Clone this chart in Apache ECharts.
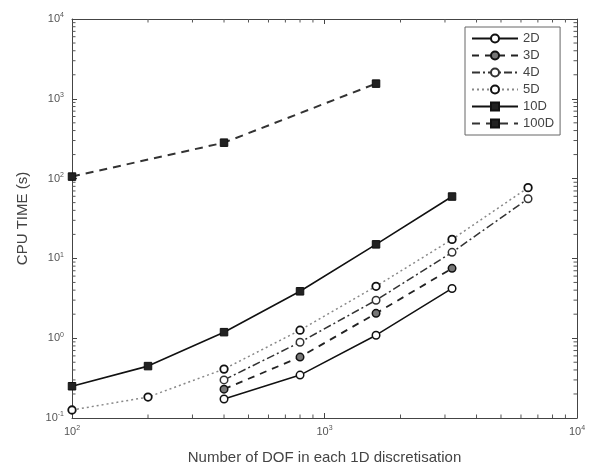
<!DOCTYPE html>
<html>
<head>
<meta charset="utf-8">
<script src="https://cdn.jsdelivr.net/npm/echarts@6/dist/echarts.min.js"></script>
<style>html,body{margin:0;padding:0;background:#fff}#c{width:590px;height:472px}</style>
</head>
<body>
<div id="c"></div>
<script>
const dof = [100, 200, 400, 800, 1600, 3200, 6400];
const t2D = [null, null, 0.173, 0.345, 1.09, 4.2, null];
const t3D = [null, null, 0.23, 0.58, 2.05, 7.5, null];
const t4D = [null, null, 0.30, 0.89, 2.99, 11.9, 56];
const t5D = [0.126, 0.183, 0.41, 1.26, 4.47, 17.3, 77];
const t10D = [0.25, 0.447, 1.19, 3.87, 15, 59.6, null];
const t100D = [106, null, 282, null, 1550, null, null];
const seriesNames = ['2D', '3D', '4D', '5D', '10D', '100D'];
const xTicks = [100, 1000, 10000];
const yTicks = [0.1, 1, 10, 100, 1000, 10000];

function pairs(arr) {
  const out = [];
  arr.forEach((v, i) => { if (v !== null) out.push([dof[i], v]); });
  return out;
}
function minorTicks(lo, hi) {
  const out = [];
  for (let d = lo; d < hi; d *= 10) {
    for (let m = 2; m <= 9; m++) out.push(+(m * d).toPrecision(6));
  }
  return out;
}
const xMinor = minorTicks(xTicks[0], xTicks[xTicks.length - 1]);
const yMinor = minorTicks(yTicks[0], yTicks[yTicks.length - 1]);
const xMin = xTicks[0], xMax = xTicks[xTicks.length - 1];
const yMin = yTicks[0], yMax = yTicks[yTicks.length - 1];

const chart = echarts.init(document.getElementById('c'), null, {renderer: 'canvas'});
const labelFmt = v => '{b|10}{s|' + Math.round(Math.log10(v)) + '}';
const rich = {
  b: {fontSize: 11, color: '#555', fontFamily: 'Liberation Sans'},
  s: {fontSize: 7, color: '#555', fontFamily: 'Liberation Sans', padding: [0, 0, 7, 0]}
};
const axisLine = {show: true, lineStyle: {color: '#444', width: 1}};
const tick = {show: true, inside: true, length: 5, lineStyle: {color: '#444'}};

const tickData = [];
xMinor.forEach(v => tickData.push([v, 0]));
yMinor.forEach(v => tickData.push([v, 1]));

function mk(name, arr, line, sym) {
  return Object.assign({
    name: name, type: 'line', data: pairs(arr),
    symbolSize: 7.5, lineStyle: line, connectNulls: true,
    z: 3
  }, sym);
}

chart.setOption({
  animation: false,
  grid: {left: 72, right: 13, top: 19, bottom: 54},
  legend: {
    data: seriesNames, orient: 'vertical', left: 465, top: 27,
    itemWidth: 46, itemHeight: 10, itemGap: 4,
    borderColor: '#666', borderWidth: 1, padding: [5, 6, 5, 6],
    textStyle: {fontSize: 13, color: '#444', fontFamily: 'Liberation Sans'}
  },
  xAxis: [{
    type: 'log', logBase: 10, min: xMin, max: xMax, position: 'bottom',
    axisLine: axisLine, axisTick: tick, splitLine: {show: false},
    axisLabel: {formatter: labelFmt, rich: rich, margin: 7},
    name: 'Number of DOF in each 1D discretisation', nameLocation: 'middle', nameGap: 32,
    nameTextStyle: {fontSize: 15, color: '#444', fontFamily: 'Liberation Sans'}
  }, {
    type: 'log', logBase: 10, min: xMin, max: xMax, position: 'top',
    axisLine: axisLine, axisTick: tick, axisLabel: {show: false}, splitLine: {show: false}
  }],
  yAxis: [{
    type: 'log', logBase: 10, min: yMin, max: yMax, position: 'left',
    axisLine: axisLine, axisTick: tick, splitLine: {show: false},
    axisLabel: {formatter: labelFmt, rich: rich, margin: 8},
    name: 'CPU TIME (s)', nameLocation: 'middle', nameGap: 42,
    nameTextStyle: {fontSize: 15, color: '#444', fontFamily: 'Liberation Sans'}
  }, {
    type: 'log', logBase: 10, min: yMin, max: yMax, position: 'right',
    axisLine: axisLine, axisTick: tick, axisLabel: {show: false}, splitLine: {show: false}
  }],
  series: [
    mk('2D', t2D, {color: '#111', width: 1.5, type: 'solid'},
       {symbol: 'circle', itemStyle: {color: '#fff', borderColor: '#111', borderWidth: 1.5}}),
    mk('3D', t3D, {color: '#222', width: 1.8, type: [7, 6]},
       {symbol: 'circle', itemStyle: {color: '#777', borderColor: '#111', borderWidth: 1.5}}),
    mk('4D', t4D, {color: '#333', width: 1.5, type: [8, 3, 2, 3]},
       {symbol: 'circle', itemStyle: {color: '#fff', borderColor: '#333', borderWidth: 1.5}}),
    mk('5D', t5D, {color: '#888', width: 1.5, type: [2, 3]},
       {symbol: 'circle', itemStyle: {color: '#fff', borderColor: '#111', borderWidth: 1.8}}),
    mk('10D', t10D, {color: '#111', width: 1.6, type: 'solid'},
       {symbol: 'rect', itemStyle: {color: '#222', borderColor: '#111', borderWidth: 1}}),
    mk('100D', t100D, {color: '#333', width: 2, type: [8, 6]},
       {symbol: 'rect', itemStyle: {color: '#222', borderColor: '#111', borderWidth: 1}}),
    {
      type: 'custom', silent: true, z: 1, data: tickData, clip: false,
      renderItem: function (params, api) {
        const v = api.value(0), side = api.value(1);
        const L = 3.5;
        let p1, p2;
        if (side === 0) {
          p1 = api.coord([v, yMin]); p2 = api.coord([v, yMax]);
          return {type: 'group', children: [
            {type: 'line', shape: {x1: p1[0], y1: p1[1], x2: p1[0], y2: p1[1] - L}, style: {stroke: '#555', lineWidth: 1}},
            {type: 'line', shape: {x1: p2[0], y1: p2[1], x2: p2[0], y2: p2[1] + L}, style: {stroke: '#555', lineWidth: 1}}
          ]};
        } else {
          p1 = api.coord([xMin, v]); p2 = api.coord([xMax, v]);
          return {type: 'group', children: [
            {type: 'line', shape: {x1: p1[0], y1: p1[1], x2: p1[0] + L, y2: p1[1]}, style: {stroke: '#555', lineWidth: 1}},
            {type: 'line', shape: {x1: p2[0], y1: p2[1], x2: p2[0] - L, y2: p2[1]}, style: {stroke: '#555', lineWidth: 1}}
          ]};
        }
      }
    }
  ]
});
</script>
</body>
</html>
